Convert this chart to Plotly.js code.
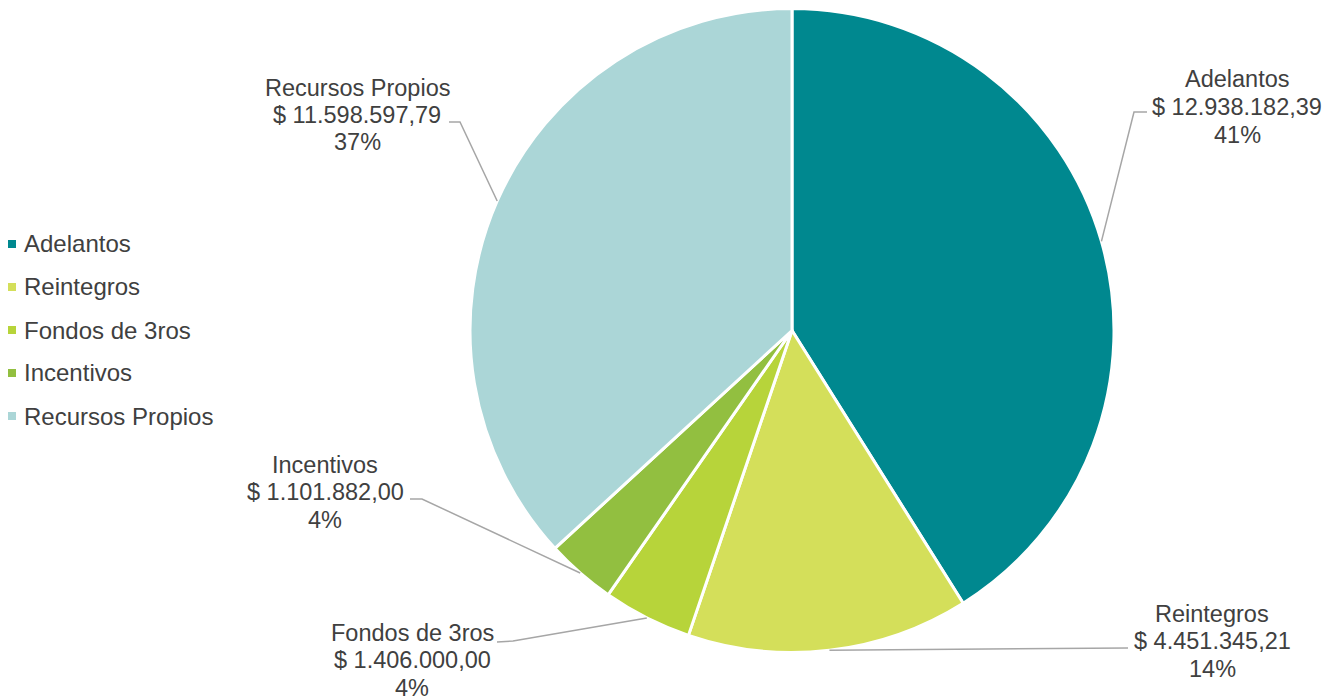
<!DOCTYPE html>
<html>
<head>
<meta charset="utf-8">
<script src="https://cdn.plot.ly/plotly-3.0.1.min.js"></script>
<style>html,body{margin:0;padding:0;background:#fff;}#chart{width:1344px;height:700px;}</style>
</head>
<body>
<div id="chart"></div>
<script>
// ---- data ----
const categories = ["Adelantos", "Reintegros", "Fondos de 3ros", "Incentivos", "Recursos Propios"];
const amounts = [12938182.39, 4451345.21, 1406000.00, 1101882.00, 11598597.79];
const percentLabels = ["41%", "14%", "4%", "4%", "37%"];
const colors = ["#00888F", "#D4DF5A", "#B7D43A", "#92BF40", "#ABD6D7"];

// ---- layout constants (pixels) ----
const W = 1344, H = 700;
const CX = 792, CY = 330.5, R = 322;
// label block centres (middle line) and leader elbow/end points
const labelPos = [[1237, 107], [1212, 641], [412, 660], [325, 492], [357, 115]];
const leaderElbow = [[1134, 112], [1128, 648], [513, 641], [422, 499], [460, 122]];
const leaderEnd = [[1147, 112], [1128, 648], [497, 642], [410, 499], [449, 122]];
const lineGap = 27.5;
const legendX = 12, legendY0 = 244, legendStep = 43;
const FONT = "Liberation Sans, Arial, sans-serif";
const TXT = "#404040";

function px(x) { return x / W; }
function py(y) { return 1 - y / H; }

function fmt(v) {
  const parts = v.toFixed(2).split(".");
  const intp = parts[0].replace(/\B(?=(\d{3})+(?!\d))/g, ".");
  return "$ " + intp + "," + parts[1];
}

const total = amounts.reduce((a, b) => a + b, 0);
const annotations = [];
const shapes = [];
let cum = 0;
amounts.forEach((v, i) => {
  const frac = v / total;
  const mid = (cum + frac / 2) * 2 * Math.PI;
  cum += frac;
  const ex = CX + R * Math.sin(mid);
  const ey = CY - R * Math.cos(mid);
  const lines = [categories[i], fmt(v), percentLabels[i]];
  lines.forEach((t, k) => {
    annotations.push({
      xref: "paper", yref: "paper",
      x: px(labelPos[i][0]), y: py(labelPos[i][1] + (k - 1) * lineGap),
      xanchor: "center", yanchor: "middle", align: "center",
      showarrow: false,
      text: t,
      font: { family: FONT, size: 23.5, color: TXT }
    });
  });
  shapes.push({
    type: "path", xref: "paper", yref: "paper",
    path: "M " + px(ex) + "," + py(ey) + " L " + px(leaderElbow[i][0]) + "," + py(leaderElbow[i][1]) +
          " L " + px(leaderEnd[i][0]) + "," + py(leaderEnd[i][1]),
    line: { color: "#A6A6A6", width: 1.5 }
  });
  // custom legend entry
  const ly = legendY0 + i * legendStep;
  shapes.push({
    type: "rect", xref: "paper", yref: "paper",
    x0: px(legendX - 4), x1: px(legendX + 4), y0: py(ly + 4), y1: py(ly - 4),
    fillcolor: colors[i], line: { width: 0 }
  });
  annotations.push({
    xref: "paper", yref: "paper",
    x: px(legendX + 10), y: py(ly),
    xanchor: "left", yanchor: "middle", showarrow: false,
    text: categories[i],
    font: { family: FONT, size: 24, color: TXT }
  });
});

const trace = {
  type: "pie",
  labels: categories,
  values: amounts,
  sort: false,
  direction: "clockwise",
  rotation: 0,
  textinfo: "none",
  hoverinfo: "label+value+percent",
  marker: { colors: colors, line: { color: "#FFFFFF", width: 3 } },
  domain: { x: [px(CX - R), px(CX + R)], y: [py(CY + R), py(CY - R)] },
  showlegend: false
};

const layout = {
  width: W, height: H,
  margin: { l: 0, r: 0, t: 0, b: 0 },
  paper_bgcolor: "#FFFFFF",
  showlegend: false,
  font: { family: FONT, color: TXT },
  annotations: annotations,
  shapes: shapes
};

Plotly.newPlot("chart", [trace], layout, { displayModeBar: false, staticPlot: true });
</script>
</body>
</html>
